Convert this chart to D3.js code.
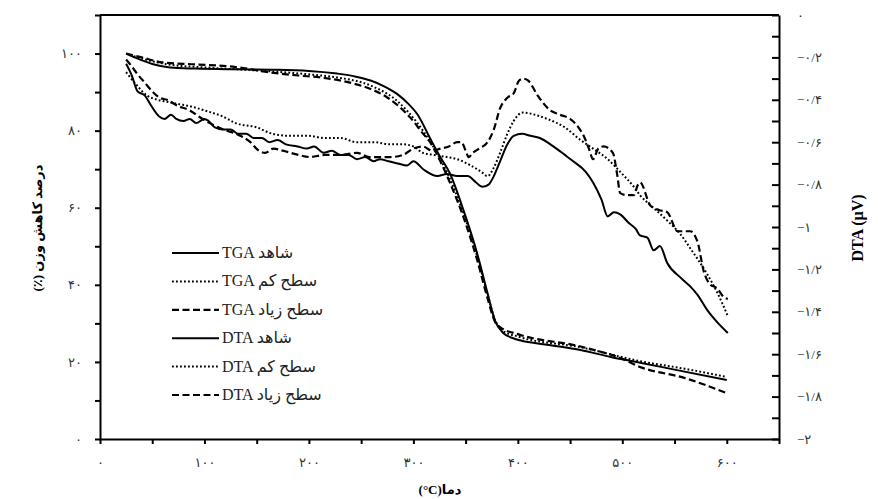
<!DOCTYPE html>
<html>
<head>
<meta charset="utf-8">
<script src="https://cdn.jsdelivr.net/npm/d3@7"></script>
<style>
  body { margin: 0; background: #fff; }
  text { font-family: "Times New Roman", "Liberation Serif", "DejaVu Sans", serif; }
</style>
</head>
<body>
<script>
// temperature (°C) / weight (%) for the TGA runs
var tgaControl = [[25,100],[35,98.8],[50,97.3],[67,96.4],[91,96.1],[130,95.9],[163,95.8],[200,95.5],[227,94.8],[245,94.0],[259,93.0],[272,91.5],[284,89.6],[295,87],[304,84.2],[316,78.0],[325,73.5],[335,68.9],[348,59.3],[361,48.2],[371,37.8],[378,30.8],[386,27.5],[395,26.2],[402,25.6],[430,24.4],[460,23.1],[490,21.2],[517,19.8],[550,18.0],[600,15.3]];
var tgaLow = [[25,100],[40,98.7],[67,97.1],[100,96.4],[163,95.4],[200,94.6],[227,93.8],[259,91.7],[284,87.8],[304,81.9],[316,77.2],[325,73],[335,67.5],[348,58.5],[361,47.5],[371,37.5],[378,31],[386,28],[400,26.6],[460,23.8],[517,20.2],[560,18.2],[600,16.1]];
var tgaHigh = [[25,100],[40,99],[60,97.7],[91,97.2],[130,96.5],[163,95.1],[190,94.3],[211,93.8],[243,92.2],[260,90.7],[275,88.6],[297,83.4],[309,79.3],[316,77.0],[325,72.5],[335,66.5],[348,57.5],[361,46.5],[371,36.5],[378,30.5],[383,29],[400,27.2],[460,24.0],[500,20.8],[517,18.7],[560,15.8],[600,11.9]];

// temperature (°C) / DTA (µV)
var dtaControl = [[25,-0.23],[30,-0.28],[36,-0.36],[43,-0.38],[48,-0.42],[57,-0.48],[62,-0.49],[68,-0.47],[73,-0.49],[80,-0.50],[86,-0.49],[92,-0.51],[100,-0.49],[104,-0.50],[110,-0.53],[118,-0.54],[125,-0.54],[132,-0.56],[140,-0.56],[147,-0.58],[155,-0.58],[162,-0.60],[170,-0.59],[178,-0.61],[189,-0.62],[198,-0.63],[205,-0.62],[214,-0.65],[222,-0.64],[230,-0.66],[238,-0.66],[246,-0.68],[254,-0.67],[262,-0.69],[268,-0.68],[276,-0.69],[285,-0.70],[294,-0.71],[300,-0.69],[310,-0.73],[323,-0.76],[332,-0.75],[342,-0.76],[352,-0.76],[360,-0.79],[366,-0.81],[372,-0.80],[377,-0.76],[383,-0.69],[390,-0.61],[396,-0.57],[404,-0.56],[412,-0.57],[421,-0.58],[434,-0.62],[445,-0.66],[453,-0.69],[465,-0.74],[472,-0.79],[480,-0.87],[486,-0.95],[492,-0.93],[498,-0.94],[506,-0.98],[513,-1.01],[517,-1.04],[524,-1.05],[530,-1.11],[536,-1.09],[543,-1.17],[556,-1.24],[565,-1.28],[572,-1.32],[581,-1.39],[591,-1.45],[601,-1.50]];
var dtaLow = [[25,-0.27],[35,-0.33],[45,-0.38],[55,-0.40],[65,-0.41],[75,-0.42],[86,-0.43],[100,-0.45],[118,-0.48],[130,-0.51],[150,-0.53],[165,-0.56],[182,-0.57],[200,-0.57],[214,-0.58],[230,-0.58],[246,-0.60],[262,-0.60],[278,-0.61],[290,-0.61],[300,-0.62],[309,-0.65],[320,-0.66],[332,-0.67],[342,-0.68],[355,-0.71],[365,-0.74],[371,-0.76],[377,-0.72],[383,-0.65],[390,-0.56],[396,-0.50],[405,-0.46],[416,-0.47],[428,-0.49],[445,-0.53],[460,-0.59],[472,-0.63],[486,-0.68],[498,-0.74],[511,-0.81],[517,-0.85],[530,-0.91],[543,-0.97],[555,-1.03],[565,-1.10],[581,-1.22],[591,-1.31],[601,-1.42]];
var dtaHigh = [[25,-0.21],[30,-0.24],[36,-0.28],[43,-0.32],[50,-0.36],[57,-0.39],[64,-0.40],[75,-0.43],[86,-0.45],[95,-0.48],[105,-0.51],[118,-0.54],[130,-0.56],[144,-0.60],[152,-0.64],[158,-0.65],[166,-0.63],[175,-0.64],[190,-0.66],[201,-0.67],[215,-0.66],[230,-0.66],[246,-0.65],[258,-0.67],[268,-0.67],[278,-0.67],[290,-0.66],[300,-0.63],[309,-0.62],[318,-0.64],[326,-0.63],[334,-0.62],[342,-0.60],[346,-0.60],[350,-0.64],[353,-0.67],[357,-0.65],[363,-0.63],[371,-0.60],[377,-0.54],[383,-0.44],[390,-0.39],[396,-0.37],[401,-0.31],[405,-0.30],[410,-0.31],[419,-0.38],[431,-0.45],[440,-0.47],[450,-0.49],[458,-0.53],[463,-0.57],[468,-0.63],[472,-0.68],[477,-0.63],[482,-0.62],[491,-0.65],[495,-0.75],[498,-0.84],[505,-0.85],[511,-0.85],[515,-0.80],[517,-0.79],[527,-0.90],[535,-0.92],[543,-0.93],[553,-1.02],[565,-1.02],[572,-1.07],[578,-1.21],[584,-1.27],[591,-1.29],[597,-1.33],[601,-1.34]];

var legendLabels = ["TGA شاهد", "TGA سطح کم", "TGA سطح زیاد", "DTA شاهد", "DTA سطح کم", "DTA سطح زیاد"];
var xTicks = d3.range(0, 651, 50);
var yLeftTicks = d3.range(0, 111, 10);
var yRightTicks = d3.range(-20, 1, 1).map(function(d) { return d / 10; });

var width = 878, height = 499;
var svg = d3.select("body").append("svg")
  .attr("width", width)
  .attr("height", height);

var x = d3.scaleLinear().domain([0, 650]).range([100, 779]);
var yL = d3.scaleLinear().domain([0, 110]).range([439, 15]);
var yR = d3.scaleLinear().domain([-2, 0]).range([439, 15]);

var fa = function(s) {
  return String(s).replace(/[0-9]/g, function(c) { return "۰۱۲۳۴۵۶۷۸۹"[c]; });
};

var styles = {
  solid: { w: 2, dash: null },
  dotted: { w: 2, dash: "1.8,2.2" },
  dashed: { w: 2.2, dash: "7,3.5" }
};

var series = [
  { data: tgaControl, y: yL, s: styles.solid },
  { data: tgaLow, y: yL, s: styles.dotted },
  { data: tgaHigh, y: yL, s: styles.dashed },
  { data: dtaControl, y: yR, s: styles.solid },
  { data: dtaLow, y: yR, s: styles.dotted },
  { data: dtaHigh, y: yR, s: styles.dashed }
];

// top border
svg.append("line")
  .attr("x1", x.range()[0]).attr("x2", x.range()[1])
  .attr("y1", 15).attr("y2", 15)
  .style("stroke", "#000").style("stroke-width", 2);

series.forEach(function(sr) {
  var line = d3.line()
    .x(function(d) { return x(d[0]); })
    .y(function(d) { return sr.y(d[1]); })
    .curve(d3.curveMonotoneX);
  svg.append("path")
    .datum(sr.data)
    .attr("d", line)
    .style("fill", "none")
    .style("stroke", "#000")
    .style("stroke-width", sr.s.w)
    .style("stroke-dasharray", sr.s.dash);
});

// axes
var gx = svg.append("g").attr("transform", "translate(0,439)")
  .call(d3.axisBottom(x).tickValues(xTicks).tickSizeInner(5).tickSizeOuter(0).tickPadding(14)
    .tickFormat(function(d) { return d % 100 === 0 ? fa(d) : ""; }));

var gl = svg.append("g").attr("transform", "translate(100,0)")
  .call(d3.axisLeft(yL).tickValues(yLeftTicks).tickSizeInner(5).tickSizeOuter(0).tickPadding(13)
    .tickFormat(function(d) { return d % 20 === 0 ? fa(d) : ""; }));

var gr = svg.append("g").attr("transform", "translate(779,0)")
  .call(d3.axisRight(yR).tickValues(yRightTicks).tickSizeInner(-7).tickSizeOuter(0).tickPadding(18)
    .tickFormat(function(d) {
      var k = Math.round(d * 10);
      if (k % 2 !== 0) return "";
      if (k === 0) return "۰";
      return "−" + fa(String(Math.abs(k) / 10).replace(".", "/"));
    }));

[gx, gl, gr].forEach(function(g) {
  g.selectAll(".domain").style("stroke", "#000").style("stroke-width", 2);
  g.selectAll(".tick line").style("stroke", "#000").style("stroke-width", 2);
  g.selectAll(".tick text")
    .style("font-family", "'Times New Roman', 'Liberation Serif', 'DejaVu Sans', serif")
    .style("font-size", "13px")
    .style("fill", "#333");
});

// axis titles
svg.append("text")
  .attr("transform", "translate(42,228) rotate(-90)")
  .attr("text-anchor", "middle")
  .attr("direction", "rtl")
  .style("font-size", "13px")
  .style("font-weight", "bold")
  .text("درصد کاهش وزن (٪)");

svg.append("text")
  .attr("transform", "translate(863,228) rotate(-90)")
  .attr("text-anchor", "middle")
  .style("font-size", "16px")
  .style("font-weight", "bold")
  .text("DTA (µV)");

svg.append("text")
  .attr("x", 440)
  .attr("y", 494)
  .attr("text-anchor", "middle")
  .style("font-size", "13px")
  .style("font-weight", "bold")
  .text("(°C)دما");

// legend
var legend = svg.append("g");
series.forEach(function(sr, i) {
  var yy = 253 + i * 28.4;
  legend.append("line")
    .attr("x1", 172).attr("x2", 219)
    .attr("y1", yy).attr("y2", yy)
    .style("stroke", "#000")
    .style("stroke-width", sr.s.w)
    .style("stroke-dasharray", sr.s.dash);
  legend.append("text")
    .attr("x", 222)
    .attr("y", yy + 5)
    .style("font-size", "16px")
    .style("fill", "#222")
    .text(legendLabels[i]);
});
</script>
</body>
</html>
